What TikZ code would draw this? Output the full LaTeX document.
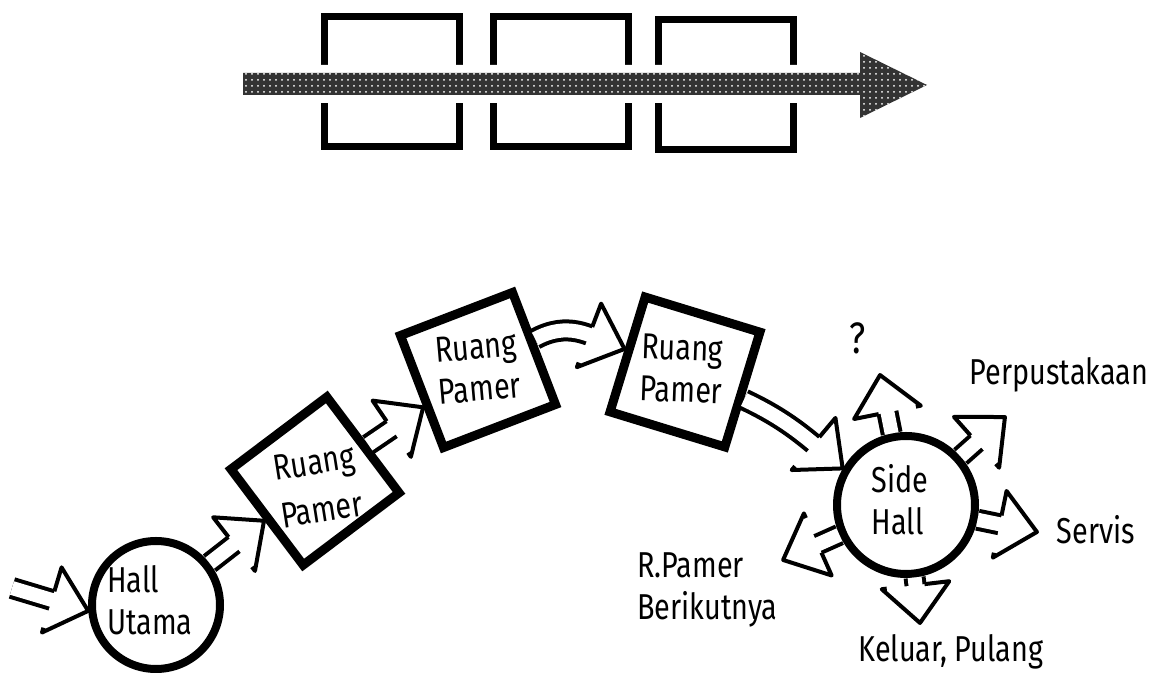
\documentclass[tikz,border=0pt]{standalone}
\usepackage{fontspec}
\newfontfamily\hand[FakeStretch=0.8]{Fira Sans}
\usetikzlibrary{decorations.markings, patterns}

\tikzset{
  handtext/.style={font=\hand\fontsize{18}{21}\selectfont},
  room/.style={draw, line width=4.5pt, minimum size=60pt, inner sep=0pt},
  hall/.style={circle, draw, line width=4pt, inner sep=0pt},
  cell/.style={draw, line width=3.5pt, minimum width=67.5pt, minimum height=65pt},
  tag/.style={handtext, align=left, inner sep=1pt},
  flow/.style={line width=11pt, shorten >=10pt,
    postaction={draw=white, line width=7pt, shorten >=10pt},
    postaction={decorate},
    decoration={markings, mark=at position 0.999 with {
      \filldraw[fill=white, line width=2pt, line join=round]
        (-19pt,4.5pt) -- (-19pt,17pt) -- (0,0) -- (-19pt,-17pt) -- (-19pt,-4.5pt);}}}
}

\begin{document}
\begin{tikzpicture}[x=0.5pt, y=0.5pt]
  \useasboundingbox (0,0) rectangle (1158,674);

  % linear sequence of rooms
  \node[cell] (b1) at (392,592) {};
  \node[cell] (b2) at (561,592) {};
  \node[cell] (b3) at (726,589) {};
  \path[preaction={draw=white, line width=8pt}, fill=black!80,
        postaction={pattern=dots, pattern color=white}]
    (243,579) -- (860,579) -- (860,556) -- (927,589)
    -- (860,622) -- (860,601) -- (243,601) -- cycle;

  % halls and exhibition rooms
  \node[hall, minimum size=64pt] (hu) at (156,69) {};
  \node[tag] (hut) at (150,74) {Hall\\Utama};
  \node[room, rotate=37] (rp1) at (315,193) {};
  \node[tag, rotate=9, font=\hand\fontsize{18}{24}\selectfont] (rp1t) at (318,188) {Ruang\\Pamer};
  \node[room, rotate=21] (rp2) at (478,304) {};
  \node[tag, rotate=5] (rp2t) at (478,306) {Ruang\\Pamer};
  \node[room, rotate=-17] (rp3) at (685,302) {};
  \node[tag, rotate=-2] (rp3t) at (682,305) {Ruang\\Pamer};
  \node[hall, minimum size=69pt] (sh) at (906,169) {};
  \node[tag] (sht) at (900,174) {Side\\Hall};

  % where the side hall leads
  \coordinate (sUp) at (880,299);
  \coordinate (sLib) at (1005,257);
  \coordinate (sSrv) at (1037,142);
  \coordinate (sExit) at (920,51);
  \coordinate (sNext) at (783,114);
  \node[tag, font=\hand\fontsize{22}{24}\selectfont] (qm) at (858,336) {?};
  \node[tag] (libt) at (1059,299) {Perpustakaan};
  \node[tag] (srvt) at (1096,144) {Servis};
  \node[tag] (exitt) at (951,22) {Keluar, Pulang};
  \node[tag, anchor=west] (nextt) at (635,84) {R.Pamer\\Berikutnya};

  % circulation
  \coordinate (door) at (12,86);
  \draw[flow] (door) -- (hu.185);
  \draw[flow] (hu) -- (rp1);
  \draw[flow] (rp1) -- (rp2);
  \draw[flow] (rp2) to[out=15, in=170] (rp3);
  \draw[flow] (rp3) to[out=-15, in=140] (sh.150);
  \foreach \t in {sUp, sLib, sSrv, sExit, sNext}
    \draw[flow] (sh) -- (\t);
\end{tikzpicture}
\end{document}
